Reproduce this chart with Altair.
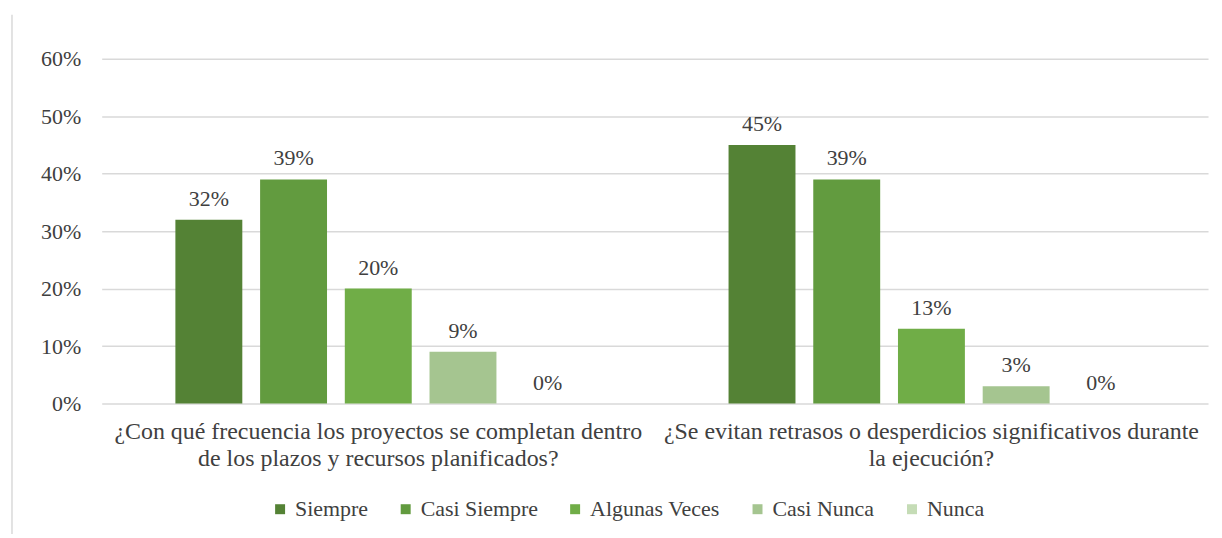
import altair as alt
import pandas as pd

questions = [
    "¿Con qué frecuencia los proyectos se completan dentro|de los plazos y recursos planificados?",
    "¿Se evitan retrasos o desperdicios significativos durante|la ejecución?",
]
answers = ["Siempre", "Casi Siempre", "Algunas Veces", "Casi Nunca", "Nunca"]
q1_values = [0.32, 0.39, 0.20, 0.09, 0.00]
q2_values = [0.45, 0.39, 0.13, 0.03, 0.00]
colors = ["#548235", "#629B3F", "#70AD47", "#A5C590", "#C5DCB6"]
y_ticks = [0, 0.1, 0.2, 0.3, 0.4, 0.5, 0.6]

rows = []
for q, vals in zip(questions, [q1_values, q2_values]):
    for a, v in zip(answers, vals):
        rows.append({"question": q, "answer": a, "value": v})
df = pd.DataFrame(rows)

FONT = "Liberation Serif, Times New Roman, serif"
TXT = "#404040"

x_enc = alt.X("question:N", sort=questions, title=None,
              scale=alt.Scale(paddingInner=0, paddingOuter=0),
              axis=alt.Axis(labelExpr="split(datum.value, '|')", labelAngle=0,
                            labelFont=FONT, labelFontSize=24, labelColor=TXT,
                            labelLineHeight=27, labelPadding=16, ticks=False,
                            domain=False, grid=False, labelLimit=0))
xoff = alt.XOffset("answer:N", sort=answers,
                   scale=alt.Scale(paddingInner=0.21, paddingOuter=0.87))
y_enc = alt.Y("value:Q", title=None,
              scale=alt.Scale(domain=[0, 0.6], nice=False),
              axis=alt.Axis(values=y_ticks, format=".0%", labelFont=FONT,
                            labelFontSize=22, labelColor=TXT, labelPadding=21,
                            ticks=False, domain=False, grid=True,
                            gridColor="#d9d9d9", gridWidth=1.5))

base = alt.Chart(df)

bars = base.mark_bar().encode(
    x=x_enc, xOffset=xoff, y=y_enc,
    color=alt.Color("answer:N", sort=answers,
                    scale=alt.Scale(domain=answers, range=colors),
                    legend=alt.Legend(title=None, orient="none", direction="horizontal",
                                      legendX=168, legendY=441, symbolType="square",
                                      symbolSize=100, symbolStrokeWidth=0,
                                      labelFont=FONT, labelFontSize=22, labelColor=TXT,
                                      labelOffset=4, columnPadding=26)),
)

labels = base.mark_text(font=FONT, fontSize=22, color=TXT, baseline="alphabetic",
                        dy=-14).encode(
    x=alt.X("question:N", sort=questions), xOffset=alt.XOffset("answer:N", sort=answers),
    y="value:Q", text=alt.Text("value:Q", format=".0%"),
)

border = alt.Chart(pd.DataFrame({"a": [0]})).mark_rule(color="#d9d9d9", strokeWidth=1.5).encode(
    x=alt.value(-90), y=alt.value(-44), y2=alt.value(479)
)

chart = alt.layer(bars, labels, border).properties(
    width=1110, height=346,
    background="white",
    autosize=alt.AutoSizeParams(type="none"),
    padding={"left": 94, "top": 50, "right": 6, "bottom": 130},
).configure_view(stroke=None, strokeWidth=0)

chart.save("out.html", embed_options={"renderer": "svg", "actions": False})
